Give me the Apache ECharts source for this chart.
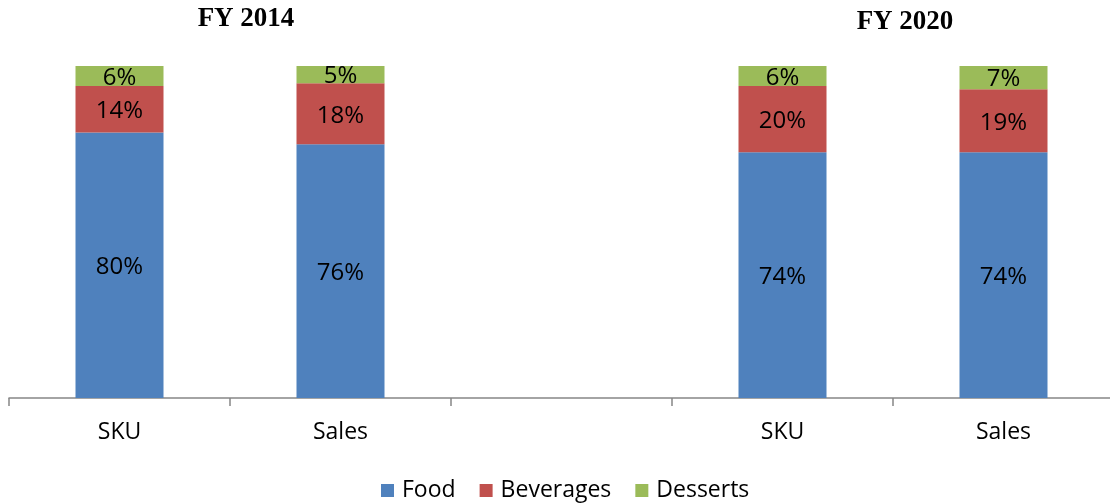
<!DOCTYPE html>
<html>
<head>
<meta charset="utf-8">
<script src="https://cdn.jsdelivr.net/npm/echarts@6/dist/echarts.min.js"></script>
<style>
html,body{margin:0;padding:0;background:#fff;}
#chart{width:1110px;height:503px;}
</style>
</head>
<body>
<div id="chart"></div>
<script>
const categories = ['SKU', 'Sales', '', 'SKU', 'Sales'];
const food = [80, 76.4, null, 74, 74];
const beverages = [14, 18.4, null, 20, 19];
const desserts = [6, 5.2, null, 6, 7];
const periodTitles = ['FY 2014', 'FY 2020'];

const FONT = '"Open Sans", "Noto Sans", sans-serif';
const chart = echarts.init(document.getElementById('chart'));

function seg(name, data, color) {
  return {
    name: name,
    type: 'bar',
    stack: 'total',
    data: data,
    barWidth: 88,
    itemStyle: { color: color },
    label: {
      show: true,
      position: 'inside',
      offset: [0, 2],
      color: '#000',
      fontFamily: FONT,
      fontSize: 24,
      formatter: p => p.value == null ? '' : Math.round(p.value) + '%'
    },
    emphasis: { disabled: true }
  };
}

chart.setOption({
  animation: false,
  grid: { left: 9, width: 1105, top: 66, bottom: 105, outerBoundsMode: 'none' },
  xAxis: {
    type: 'category',
    data: categories,
    axisLine: { lineStyle: { color: '#868686', width: 1.5 } },
    axisTick: { show: true, alignWithLabel: false, interval: 0, length: 8, lineStyle: { color: '#868686', width: 1.5 } },
    axisLabel: { color: '#000', fontFamily: FONT, fontSize: 23, margin: 23, interval: 0 }
  },
  yAxis: { type: 'value', min: 0, max: 100, show: false },
  legend: {
    left: 376, top: 474,
    icon: 'rect', itemWidth: 13, itemHeight: 13, itemGap: 24,
    textStyle: { color: '#000', fontFamily: FONT, fontSize: 23, padding: [0, 0, 0, 3] },
    data: ['Food', 'Beverages', 'Desserts']
  },
  graphic: [
    { type: 'text', x: 246, y: 19, style: { text: periodTitles[0], font: 'bold 27px "Liberation Serif", "DejaVu Serif", serif', fill: '#000', textAlign: 'center', textVerticalAlign: 'middle' } },
    { type: 'text', x: 905, y: 22, style: { text: periodTitles[1], font: 'bold 27px "Liberation Serif", "DejaVu Serif", serif', fill: '#000', textAlign: 'center', textVerticalAlign: 'middle' } }
  ],
  series: [
    seg('Food', food, '#4F81BD'),
    seg('Beverages', beverages, '#C0504D'),
    seg('Desserts', desserts, '#9BBB59')
  ]
});
</script>
</body>
</html>
